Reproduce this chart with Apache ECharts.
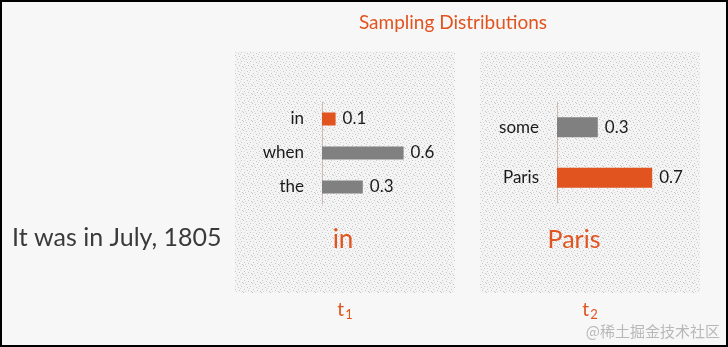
<!DOCTYPE html>
<html><head><meta charset="utf-8">
<script src="https://cdn.jsdelivr.net/npm/echarts@6/dist/echarts.min.js"></script>
<style>html,body{margin:0;padding:0;background:#f7f7f7}#c{width:728px;height:347px}</style>
</head><body><div id="c"></div>
<script>
// ---- data ----
var title = 'Sampling Distributions';
var prompt = 'It was in July, 1805';
var tokens1 = ['in', 'when', 'the'];
var probs1 = [0.1, 0.6, 0.3];
var chosen1 = 'in';
var tokens2 = ['some', 'Paris'];
var probs2 = [0.3, 0.7];
var chosen2 = 'Paris';
var stepLabels = ['1', '2'];
var watermark = '@稀土掘金技术社区';

// ---- styles ----
var ORANGE = '#E2541F', GRAY = '#808080', FONT = 'Lato, "Open Sans", sans-serif';

function makePattern() {
  var c = document.createElement('canvas'); c.width = 9; c.height = 9;
  var g = c.getContext('2d');
  g.fillStyle = '#f4f4f4'; g.fillRect(0, 0, 9, 9);
  g.fillStyle = '#c6c6c6';
  [[1,1],[5,2],[3,5],[7,7],[0,4],[8,3],[4,8]].forEach(function(p){ g.fillRect(p[0], p[1], 1, 1); });
  g.fillStyle = '#dadada';
  [[2,3],[6,5],[1,7],[6,0]].forEach(function(p){ g.fillRect(p[0], p[1], 1, 1); });
  return c;
}
var pat = makePattern();

function items(tokens, probs, chosen) {
  return probs.map(function (v, i) {
    return { value: v, itemStyle: { color: tokens[i] === chosen ? ORANGE : GRAY } };
  });
}

var chart = echarts.init(document.getElementById('c'), null, { renderer: 'canvas' });
var yAxisCommon = {
  type: 'category', inverse: true,
  axisLine: { show: true, lineStyle: { color: '#cdbcb3', width: 1 } },
  axisTick: { show: false },
  axisLabel: { color: '#1a1a1a', fontSize: 17, fontFamily: FONT, margin: 18 }
};
var xAxisCommon = { type: 'value', min: 0, max: 1, show: false };
var labelCommon = { show: true, position: 'right', distance: 7, color: '#1a1a1a', fontSize: 17, fontFamily: FONT };

chart.setOption({
  backgroundColor: '#f7f7f7',
  animation: false,
  title: { text: title, left: 448, textAlign: 'center', top: 8,
    textStyle: { color: ORANGE, fontSize: 19, fontWeight: 'normal', fontFamily: FONT } },
  graphic: [
    { type: 'rect', z: -10, shape: { x: 235, y: 51, width: 220, height: 242 }, style: { fill: { image: pat, repeat: 'repeat' } } },
    { type: 'rect', z: -10, shape: { x: 480, y: 51, width: 220, height: 242 }, style: { fill: { image: pat, repeat: 'repeat' } } },
    { type: 'text', left: 12, top: 225, style: { text: prompt, fill: '#3a3a3a', font: '25px ' + FONT } },
    { type: 'text', z: 10, style: { text: chosen1, x: 343, y: 240, textAlign: 'center', textVerticalAlign: 'middle', fill: ORANGE, font: '26px ' + FONT } },
    { type: 'text', z: 10, style: { text: chosen2, x: 574, y: 240, textAlign: 'center', textVerticalAlign: 'middle', fill: ORANGE, font: '25px ' + FONT } },
    { type: 'text', z: 10, style: { text: '{t|t}{s|' + stepLabels[0] + '}', x: 345, y: 310, textAlign: 'center', textVerticalAlign: 'middle',
        rich: { t: { fill: ORANGE, fontSize: 19, fontFamily: FONT }, s: { fill: ORANGE, fontSize: 13, fontFamily: FONT, padding: [9, 0, 0, 1] } } } },
    { type: 'text', z: 10, style: { text: '{t|t}{s|' + stepLabels[1] + '}', x: 590, y: 310, textAlign: 'center', textVerticalAlign: 'middle',
        rich: { t: { fill: ORANGE, fontSize: 19, fontFamily: FONT }, s: { fill: ORANGE, fontSize: 13, fontFamily: FONT, padding: [9, 0, 0, 1] } } } },
    { type: 'text', z: 10, right: 8, top: 324, style: { text: watermark, fill: '#b8b8b8', font: '15px "Noto Sans CJK SC", sans-serif' } },
    { type: 'rect', z: 100, shape: { x: 1, y: 1, width: 726, height: 345 }, style: { fill: 'none', stroke: '#000', lineWidth: 2 } }
  ],
  grid: [
    { left: 322, top: 102, width: 136, height: 102 },
    { left: 557, top: 102, width: 136, height: 101 }
  ],
  xAxis: [
    Object.assign({ gridIndex: 0 }, xAxisCommon),
    Object.assign({ gridIndex: 1 }, xAxisCommon)
  ],
  yAxis: [
    Object.assign({ gridIndex: 0, data: tokens1 }, yAxisCommon),
    Object.assign({ gridIndex: 1, data: tokens2 }, yAxisCommon)
  ],
  series: [
    { type: 'bar', xAxisIndex: 0, yAxisIndex: 0, barWidth: 13, data: items(tokens1, probs1, chosen1), label: labelCommon },
    { type: 'bar', xAxisIndex: 1, yAxisIndex: 1, barWidth: 20, data: items(tokens2, probs2, chosen2), label: labelCommon }
  ]
});
</script></body></html>
